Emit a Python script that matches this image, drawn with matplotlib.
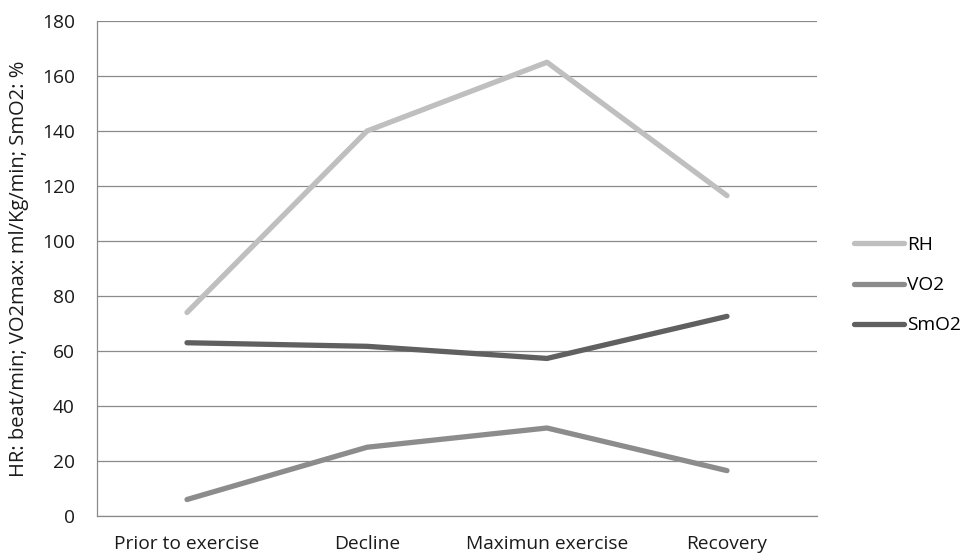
import matplotlib
matplotlib.use("Agg")
import matplotlib.pyplot as plt
from matplotlib.lines import Line2D

stages = ["Prior to exercise", "Decline", "Maximun exercise", "Recovery"]
rh = [74, 140, 165, 116.5]
vo2 = [6, 25, 32, 16.5]
smo2 = [63, 61.7, 57.3, 72.6]

series = [("RH", rh, "#bfbfbf"), ("VO2", vo2, "#8c8c8c"), ("SmO2", smo2, "#606060")]

plt.rcParams["font.family"] = ["Open Sans", "DejaVu Sans"]
FS = 13.8

fig = plt.figure(figsize=(9.65, 5.56), dpi=100)
ax = fig.add_axes([97 / 965, 1 - 516 / 556, 720 / 965, 495 / 556])

x = range(len(stages))
for name, vals, color in series:
    ax.plot(x, vals, color=color, lw=3.8, solid_capstyle="round", label=name)

ax.set_xlim(-0.5, len(stages) - 0.5)
ax.set_ylim(0, 180)
ax.set_yticks(range(0, 181, 20))
ax.set_xticks(list(x))
ax.set_xticklabels(stages)
ax.yaxis.grid(True, color="#8a8a8a", lw=0.9)
ax.set_axisbelow(True)
for s in ["top", "right"]:
    ax.spines[s].set_visible(False)
for s in ["left", "bottom"]:
    ax.spines[s].set_color("#8a8a8a")
    ax.spines[s].set_linewidth(0.9)
ax.tick_params(length=0, labelsize=FS, colors="#1a1a1a")
ax.tick_params(axis="y", pad=16)
ax.tick_params(axis="x", pad=14)
ax.set_ylabel("HR: beat/min; VO2max: ml/Kg/min; SmO2: %", fontsize=14.5, color="#1a1a1a", labelpad=9)

handles = [Line2D([], [], color=c, lw=3.8, solid_capstyle="round") for _, _, c in series]
fig.legend(handles, [n for n, _, _ in series], loc="center left",
           bbox_to_anchor=(0.885, 0.487), frameon=False, fontsize=FS,
           handlelength=2.6, handletextpad=0.15, labelspacing=1.15,
           borderaxespad=0, borderpad=0)

fig.savefig("out.png", dpi=100)
